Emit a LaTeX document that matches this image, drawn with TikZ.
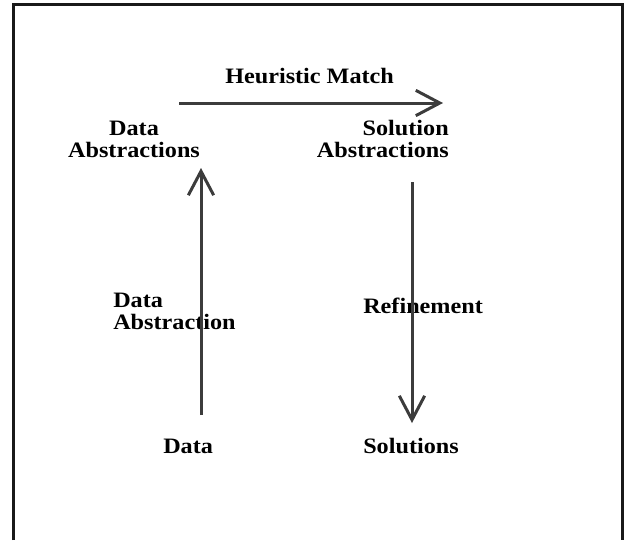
\documentclass[tikz,border=0pt]{standalone}
\usepackage{fontspec}
\setmainfont[FakeStretch=1.1]{Liberation Serif}
\usepackage{tikz}
\usetikzlibrary{arrows.meta, positioning}
\definecolor{arrowgray}{RGB}{60, 60, 60}

\begin{document}
\begin{tikzpicture}[
    x=0.75pt, y=-0.75pt,
    term/.style={inner sep=0pt, font=\fontsize{16.5pt}{16.5pt}\selectfont\bfseries},
    arrow/.style={-{Straight Barb[length=18pt, width=19pt]}, line width=2.25pt, draw=arrowgray},
    frame/.style={line width=2.25pt, draw=black!90}
]
    \useasboundingbox (0,0) rectangle (632,540);
    \draw[frame] (13.5,540) -- (13.5,4.5) -- (622.5,4.5) -- (622.5,540);

    % Main entities
    \node[term, anchor=base west] (heuristic) at (225,83) {Heuristic Match};
    \node[term, align=center, anchor=base] (dataabs) at (134,157) {Data\\Abstractions};
    \node[term, align=right, anchor=base east] (solabs) at (449,157) {Solution\\Abstractions};
    \node[term, align=left, anchor=base west] (abstraction) at (113,329) {Data\\Abstraction};
    \node[term, anchor=base west] (refinement) at (363,313) {Refinement};
    \node[term, anchor=base west] (data) at (163,453) {Data};
    \node[term, anchor=base west] (solutions) at (363,453) {Solutions};

    % Relationships
    \draw[arrow] ([xshift=33.75pt, yshift=40.5pt]dataabs.base) -- ([xshift=-4.5pt, yshift=40.5pt]solabs.base east);
    \draw[arrow] ([xshift=28.5pt, yshift=28.5pt]data.base west) -- ([xshift=50.25pt, yshift=-8.25pt]dataabs.base);
    \draw[arrow] ([xshift=-27.75pt, yshift=-18.75pt]solabs.base east) -- ([xshift=36.75pt, yshift=22.5pt]solutions.base west);
\end{tikzpicture}
\end{document}
